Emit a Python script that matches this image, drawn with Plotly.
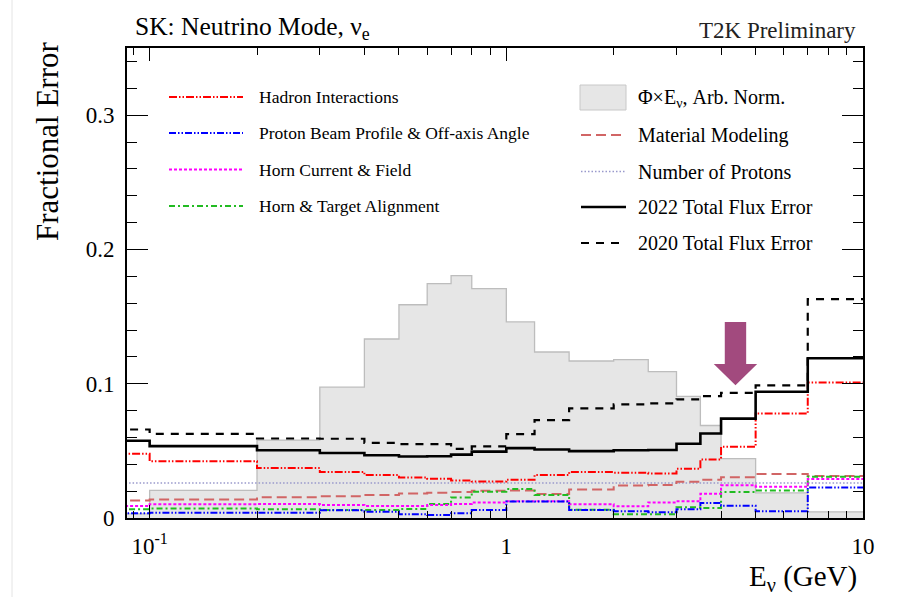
import math
import plotly.graph_objects as go

# ---------------- data ----------------
bin_edges = [0.08, 0.1, 0.2, 0.3, 0.4, 0.5, 0.6, 0.7, 0.8, 1.0, 1.2, 1.5,
             2.0, 2.5, 3.0, 3.5, 4.0, 5.0, 7.0, 10.0]

flux_shape = [0.003, 0.0205, 0.058, 0.0974, 0.1333, 0.1588, 0.1745, 0.1805,
              0.1708, 0.146, 0.1236, 0.1169, 0.118, 0.109, 0.0906, 0.0689,
              0.0442, 0.0187, 0.0045]

hadron = [0.0479, 0.0422, 0.0372, 0.0342, 0.032, 0.0302, 0.0292, 0.028,
          0.0272, 0.0285, 0.032, 0.0342, 0.0337, 0.0332, 0.0366, 0.0436,
          0.053, 0.0778, 0.1009]

proton_beam = [0.0035, 0.004, 0.004, 0.0058, 0.0047, 0.0027, 0.0022, 0.0035,
               0.006, 0.0123, 0.0122, 0.006, 0.005, 0.0042, 0.0065, 0.0112,
               0.0092, 0.005, 0.0227]

horn_current = [0.009, 0.0103, 0.0105, 0.0097, 0.009, 0.009, 0.0097, 0.0105,
                0.0115, 0.0124, 0.0124, 0.0102, 0.0087, 0.0116, 0.0124, 0.018,
                0.0243, 0.0232, 0.029]

horn_alignment = [0.0066, 0.007, 0.0065, 0.006, 0.006, 0.0067, 0.0105, 0.0153,
                  0.0195, 0.0216, 0.0172, 0.0062, 0.0028, 0.0028, 0.008, 0.0075,
                  0.0193, 0.0205, 0.0308]

material = [0.013, 0.0137, 0.0155, 0.0162, 0.0172, 0.0182, 0.0188, 0.0194,
            0.0202, 0.0205, 0.0179, 0.0212, 0.0242, 0.0245, 0.027, 0.0285,
            0.0303, 0.0328, 0.0313]

n_protons = [0.026, 0.026, 0.026, 0.026, 0.026, 0.026, 0.026, 0.026, 0.026,
             0.026, 0.026, 0.026, 0.026, 0.026, 0.026, 0.026, 0.026, 0.026,
             0.026]

total_2022 = [0.0575, 0.0535, 0.0505, 0.0484, 0.0467, 0.0458, 0.046, 0.0472,
              0.0494, 0.052, 0.051, 0.0498, 0.0505, 0.0506, 0.0553, 0.0629,
              0.074, 0.094, 0.119]

total_2020 = [0.0659, 0.0627, 0.0592, 0.059, 0.056, 0.055, 0.055, 0.0515,
              0.0534, 0.0624, 0.0729, 0.0816, 0.0846, 0.0854, 0.0884, 0.0908,
              0.0932, 0.0988, 0.163]

x_tick_vals = [0.1, 1, 10]
x_tick_text = ["10<sup>-1</sup>", "1", "10"]
x_minor_vals = [0.09, 0.2, 0.3, 0.4, 0.5, 0.6, 0.7, 0.8, 0.9,
                2, 3, 4, 5, 6, 7, 8, 9]
y_tick_vals = [0, 0.1, 0.2, 0.3]
y_tick_text = ["0", "0.1", "0.2", "0.3"]
y_minor_vals = [0.02, 0.04, 0.06, 0.08, 0.12, 0.14, 0.16, 0.18, 0.22, 0.24,
                0.26, 0.28, 0.32, 0.34]

# arrow marker (energy of the oscillation maximum region)
arrow_energy = 4.39
arrow_top, arrow_neck, arrow_tip = 0.146, 0.1146, 0.0989

# ---------------- styling ----------------
FONT = "Liberation Serif"
W, H = 902, 597
L, R, T, B = 127, 39, 48, 79
PW, PH = W - L - R, H - T - B


def px_x(px):
    return (px - L) / PW


def px_y(py):
    return (H - B - py) / PH


def steps(vals):
    return bin_edges, list(vals) + [vals[-1]]


series = [
    ("Hadron Interactions", hadron, "#ff0000", "8px,2px,1.5px,2px,1.5px,2px", 2),
    ("Proton Beam Profile & Off-axis Angle", proton_beam, "#0000ff", "7px,2px,1.5px,2px,1.5px,2px", 2),
    ("Horn Current & Field", horn_current, "#ff00ff", "3px,2px", 2),
    ("Horn & Target Alignment", horn_alignment, "#22bb22", "6px,3px,2px,3px", 2),
    ("Material Modeling", material, "#d16565", "10px,5px", 2),
    ("Number of Protons", n_protons, "#9999cc", "1.5px,2px", 1.5),
    ("2022 Total Flux Error", total_2022, "#000000", "solid", 2.6),
    ("2020 Total Flux Error", total_2020, "#000000", "8px,7px", 2.2),
]

fig = go.Figure()

fx, fy = steps(flux_shape)
fig.add_trace(go.Scatter(x=fx, y=fy, mode="lines", line_shape="hv",
                         fill="tozeroy", fillcolor="#e6e6e6",
                         line=dict(color="#bdbdbd", width=1.3),
                         name="Φ×E<sub>ν</sub>, Arb. Norm.", showlegend=False,
                         hoverinfo="skip"))

order = [5, 4, 3, 2, 1, 0, 7, 6]
for i in order:
    name, vals, color, dash, width = series[i]
    sx, sy = steps(vals)
    fig.add_trace(go.Scatter(x=sx, y=sy, mode="lines", line_shape="hv",
                             line=dict(color=color, width=width, dash=dash),
                             name=name, showlegend=False))

# arrow drawn as a filled polygon (log-x aware)
sh = 10 ** (10.7 / 356.7)
hd = 10 ** (21.7 / 356.7)
ax_ = [arrow_energy / sh, arrow_energy * sh, arrow_energy * sh, arrow_energy * hd,
       arrow_energy, arrow_energy / hd, arrow_energy / sh, arrow_energy / sh]
ay_ = [arrow_top, arrow_top, arrow_neck, arrow_neck, arrow_tip, arrow_neck,
       arrow_neck, arrow_top]
fig.add_trace(go.Scatter(x=ax_, y=ay_, mode="lines", fill="toself",
                         fillcolor="#a24a7e", line=dict(width=0, color="#a24a7e"),
                         showlegend=False, hoverinfo="skip"))

shapes = []
annotations = []

# faint page edge line seen in the reference
shapes.append(dict(type="line", xref="paper", yref="paper",
                   x0=px_x(12), x1=px_x(12), y0=px_y(0), y1=px_y(597),
                   line=dict(color="#e4e4e4", width=1)))

# ---- legend (left block) ----
left_rows = [97, 133, 169.5, 206]
for (name, vals, color, dash, width), yy in zip(series[:4], left_rows):
    shapes.append(dict(type="line", xref="paper", yref="paper",
                       x0=px_x(169), x1=px_x(243), y0=px_y(yy), y1=px_y(yy),
                       line=dict(color=color, width=width, dash=dash)))
    annotations.append(dict(text=name, xref="paper", yref="paper",
                            x=px_x(257), y=px_y(yy), xanchor="left",
                            yanchor="middle", showarrow=False,
                            font=dict(family=FONT, size=17.5, color="black")))

# ---- legend (right block) ----
right_rows = [98, 135, 171.5, 207, 243]
shapes.append(dict(type="rect", xref="paper", yref="paper",
                   x0=px_x(580), x1=px_x(626), y0=px_y(110), y1=px_y(85),
                   fillcolor="#e6e6e6", line=dict(color="#c8c8c8", width=1)))
annotations.append(dict(text="Φ×E<sub>ν</sub>, Arb. Norm.", xref="paper",
                        yref="paper", x=px_x(636), y=px_y(right_rows[0]),
                        xanchor="left", yanchor="middle", showarrow=False,
                        font=dict(family=FONT, size=20, color="black")))
for (name, vals, color, dash, width), yy in zip(series[4:], right_rows[1:]):
    shapes.append(dict(type="line", xref="paper", yref="paper",
                       x0=px_x(581), x1=px_x(626), y0=px_y(yy), y1=px_y(yy),
                       line=dict(color=color, width=width, dash=dash)))
    annotations.append(dict(text=name, xref="paper", yref="paper",
                            x=px_x(636), y=px_y(yy), xanchor="left",
                            yanchor="middle", showarrow=False,
                            font=dict(family=FONT, size=20, color="black")))

# ---- titles ----
annotations.append(dict(text="SK: Neutrino Mode, ν<sub>e</sub>", xref="paper",
                        yref="paper", x=px_x(133), y=px_y(28), xanchor="left",
                        yanchor="middle", showarrow=False,
                        font=dict(family=FONT, size=25.5, color="black")))
annotations.append(dict(text="T2K Preliminary", xref="paper", yref="paper",
                        x=px_x(858), y=px_y(31), xanchor="right",
                        yanchor="middle", showarrow=False,
                        font=dict(family=FONT, size=23, color="#222222")))
annotations.append(dict(text="Fractional Error", xref="paper", yref="paper",
                        x=px_x(48), y=px_y(39), xanchor="center",
                        yanchor="top", textangle=-90, showarrow=False,
                        font=dict(family=FONT, size=31, color="black")))
annotations.append(dict(text="E<sub>ν</sub> (GeV)", xref="paper", yref="paper",
                        x=px_x(859), y=px_y(578), xanchor="right",
                        yanchor="middle", showarrow=False,
                        font=dict(family=FONT, size=29, color="black")))

fig.update_layout(
    width=W, height=H, autosize=False,
    margin=dict(l=L, r=R, t=T, b=B, pad=0),
    paper_bgcolor="white", plot_bgcolor="white",
    font=dict(family=FONT, color="black"),
    showlegend=False,
    shapes=shapes, annotations=annotations,
    xaxis=dict(type="log", range=[math.log10(0.0864), 1.0],
               tickmode="array", tickvals=x_tick_vals, ticktext=x_tick_text,
               ticks="inside", ticklen=13, tickwidth=1.3, tickcolor="black",
               minor=dict(tickmode="array", tickvals=x_minor_vals,
                          ticks="inside", ticklen=7, tickwidth=1.3,
                          tickcolor="black", showgrid=False),
               showline=True, linecolor="black", linewidth=2,
               mirror="allticks", showgrid=False, zeroline=False,
               tickfont=dict(family=FONT, size=23, color="black"),
               ticklabelstandoff=6),
    yaxis=dict(range=[0, 0.35], tickmode="array", tickvals=y_tick_vals,
               ticktext=y_tick_text,
               ticks="inside", ticklen=21, tickwidth=1.3, tickcolor="black",
               minor=dict(tickmode="array", tickvals=y_minor_vals,
                          ticks="inside", ticklen=10, tickwidth=1.3,
                          tickcolor="black", showgrid=False),
               showline=True, linecolor="black", linewidth=2,
               mirror="allticks", showgrid=False, zeroline=False,
               tickfont=dict(family=FONT, size=23, color="black"),
               ticklabelstandoff=6),
)

fig.write_html("out.html")
